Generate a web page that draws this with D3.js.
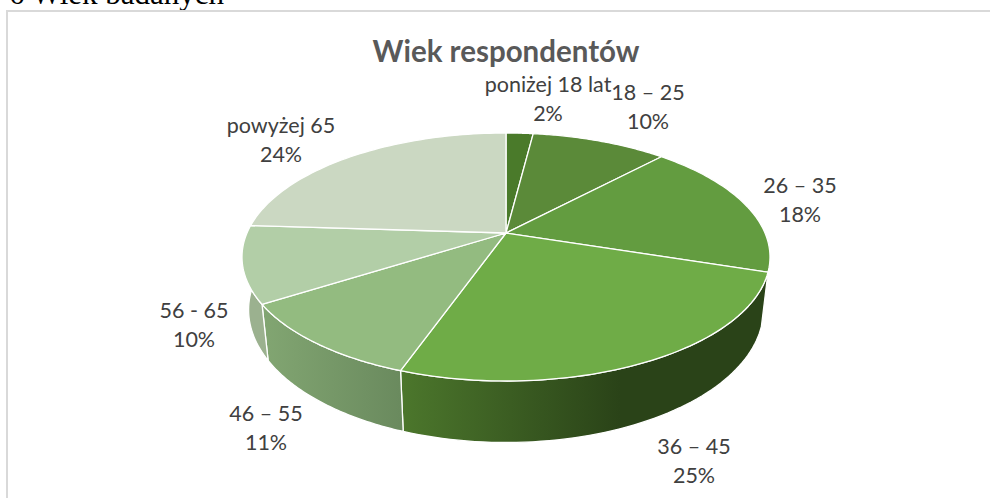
<!DOCTYPE html>
<html><head><meta charset="utf-8">
<script src="https://cdn.jsdelivr.net/npm/d3@7"></script>
<style>html,body{margin:0;padding:0;background:#fff;overflow:hidden}svg{display:block}</style>
</head><body>
<script>
const categories = ["poniżej 18 lat","18 – 25","26 – 35","36 – 45","46 – 55","56 - 65","powyżej 65"];
const values = [2,10,18,25.4,10.6,10,24];
const topColors = ["#4a7a2a","#5b8a39","#639c40","#6fac47","#93bb80","#b2cea7","#cbd8c2"];
const wallStart = [null,null,"#2a4318","#4c772c","#82a672","#9bb18f",null];
const wallEnd = [null,null,"#2a4318","#2a4318","#6a8a5e","#9bb18f",null];
const labelX = [548,648,800,694,266,194,281];
const labelY = [92,100,193,454,421,318,133];

const W=990,H=498,cx=506,cy=233,a=259,b=119.35,k=0.1935;
const svg=d3.select("body").append("svg").attr("width",W).attr("height",H);
const defs=svg.append("defs");

svg.append("text").attr("x",9).attr("y",4).attr("font-family","Liberation Serif").attr("font-size",31).attr("fill","#000").text("6 Wiek badanych");
svg.append("rect").attr("x",7).attr("y",11).attr("width",992).attr("height",500).attr("fill","#fff").attr("stroke","#d9d9d9").attr("stroke-width",2);

const proj=t=>{const u=Math.sin(t),v=Math.cos(t),d=1+k*v;return [cx+a*u/d,cy-b*v/d];};
const low=p=>[cx+0.975*(p[0]-cx),p[1]+56+(p[1]-302)*0.07];
const samples=(s,e)=>d3.range(0,61).map(i=>s+(e-s)*i/60);
const line=d3.line();
const arcs=d3.pie().sort(null).value(d=>d)(values);

const wallMin=Math.PI*0.5, wallMax=Math.PI*1.5+0.04;
arcs.forEach((d,i)=>{
  if(!wallStart[i])return;
  const s=Math.max(d.startAngle,wallMin),e=Math.min(d.endAngle,wallMax);
  const top=samples(s,e).map(proj),bot=top.map(low).reverse();
  const id="w"+i,x0=proj(e)[0],x1=i==3?620:proj(s)[0];
  const g=defs.append("linearGradient").attr("id",id).attr("gradientUnits","userSpaceOnUse")
    .attr("x1",x0).attr("x2",x1).attr("y1",0).attr("y2",0);
  g.append("stop").attr("offset",0).attr("stop-color",wallStart[i]);
  g.append("stop").attr("offset",1).attr("stop-color",wallEnd[i]);
  svg.append("path").attr("d",line(top.concat(bot))+"Z").attr("fill",`url(#${id})`).attr("stroke","#fff").attr("stroke-width",1.3).attr("stroke-linejoin","round");
});
arcs.forEach((d,i)=>{
  const pts=[[cx,cy]].concat(samples(d.startAngle,d.endAngle).map(proj));
  svg.append("path").attr("d",line(pts)+"Z").attr("fill",topColors[i]).attr("stroke","#fff").attr("stroke-width",1.3).attr("stroke-linejoin","round");
});

svg.append("text").attr("x",506).attr("y",62).attr("text-anchor","middle").attr("font-family","Lato").attr("font-weight",700).attr("font-size",29.5).attr("fill","#595959").text("Wiek respondentów");
categories.forEach((c,i)=>{
  const t=svg.append("text").attr("text-anchor","middle").attr("font-family","Lato").attr("font-size",21.5).attr("fill","#404040");
  t.append("tspan").attr("x",labelX[i]).attr("y",labelY[i]).text(c);
  t.append("tspan").attr("x",labelX[i]).attr("y",labelY[i]+29).text(Math.round(values[i])+"%");
});
</script></body></html>
